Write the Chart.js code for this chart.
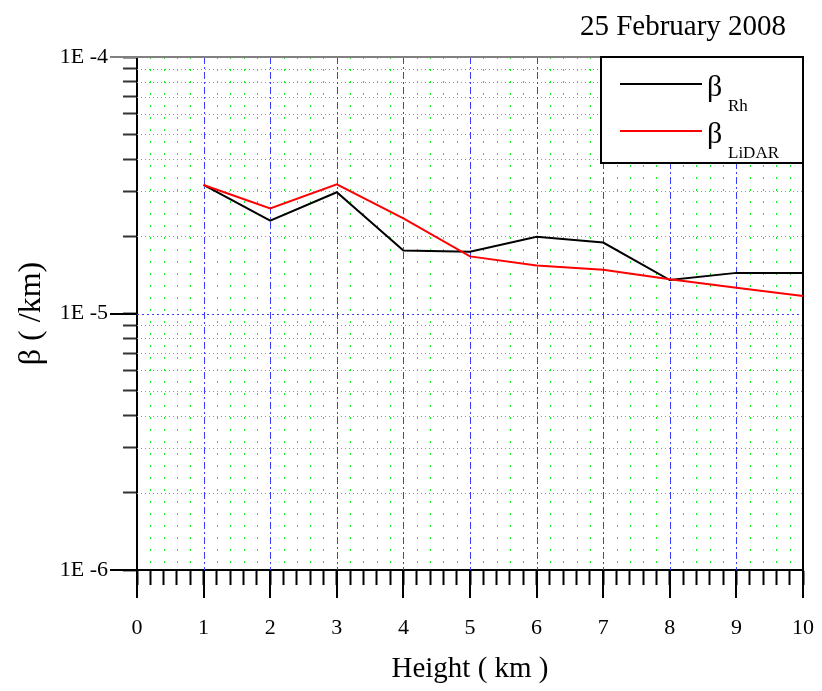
<!DOCTYPE html>
<html>
<head>
<meta charset="utf-8">
<title>25 February 2008</title>
<script src="https://cdn.jsdelivr.net/npm/chart.js@4.4.1/dist/chart.umd.min.js"></script>
<style>
  body { margin: 0; background: #fff; }
  canvas { display: block; }
</style>
</head>
<body>
<canvas id="chart" width="822" height="691"></canvas>
<script>
// values
const heights = [1, 2, 3, 4, 5, 6, 7, 8, 9, 10];
const betaRh = [3.17e-5, 2.30e-5, 2.97e-5, 1.76e-5, 1.74e-5, 1.99e-5, 1.89e-5, 1.35e-5, 1.44e-5, 1.44e-5];
const betaLidar = [3.17e-5, 2.57e-5, 3.19e-5, 2.35e-5, 1.67e-5, 1.54e-5, 1.48e-5, 1.36e-5, 1.26e-5, 1.17e-5];
const yDecades = [1e-6, 1e-5, 1e-4];
const yMinorSteps = [1, 2, 3, 4, 5, 6, 7, 8, 9];
const xMajorTicks = [0, 1, 2, 3, 4, 5, 6, 7, 8, 9, 10];
const chartTitle = '25 February 2008';
const seriesNames = [
  { main: 'β', sub: 'Rh' },
  { main: 'β', sub: 'LiDAR' },
];

const SERIF = "'Liberation Serif', 'DejaVu Serif', serif";
const BLUE = '#3c3cff';
const GREEN = '#11ee11';

const isDecade = (v) => Math.abs(Math.log10(v) - Math.round(Math.log10(v))) < 1e-6;
const isInteger = (v) => Math.abs(v - Math.round(v)) < 1e-6;

// y ticks: 1..9 in every decade, up to the last decade
const yTicks = [];
yDecades.forEach((d, i) => {
  if (i === yDecades.length - 1) {
    yTicks.push(d);
  } else {
    yMinorSteps.forEach((m) => yTicks.push(m * d));
  }
});

const toPoints = (ys) => heights.map((h, i) => ({ x: h, y: ys[i] }));

const strokeLine = (ctx, x1, y1, x2, y2, color, width, dash) => {
  ctx.save();
  ctx.strokeStyle = color;
  ctx.lineWidth = width;
  ctx.setLineDash(dash);
  ctx.beginPath();
  ctx.moveTo(x1, y1);
  ctx.lineTo(x2, y2);
  ctx.stroke();
  ctx.restore();
};

// grid inside the plot, placed from the scales' own ticks
const gridPlugin = {
  id: 'plotGrid',
  beforeDatasetsDraw(chart) {
    const { ctx, chartArea: a, scales } = chart;
    scales.y.ticks.forEach((t) => {
      const py = Math.round(scales.y.getPixelForValue(t.value)) + 0.5;
      if (t.value <= 1e-6 || t.value >= 1e-4) return;
      if (isDecade(t.value)) strokeLine(ctx, a.left, py, a.right, py, BLUE, 1, [2, 3]);
      else strokeLine(ctx, a.left, py, a.right, py, GREEN, 1, [1, 3]);
    });
    scales.x.ticks.forEach((t) => {
      const px = Math.round(scales.x.getPixelForValue(t.value)) + 0.5;
      if (t.value <= 0 || t.value >= 10) return;
      if (isInteger(t.value)) strokeLine(ctx, px, a.top, px, a.bottom, BLUE, 1, [7, 3, 2, 3]);
      else strokeLine(ctx, px, a.top, px, a.bottom, GREEN, 1, [2, 10]);
    });
    // top and right frame
    strokeLine(ctx, a.left, a.top, a.right, a.top, '#808080', 2, []);
    strokeLine(ctx, a.right, a.top, a.right, a.bottom, '#000', 2, []);
  },
};

// long tick marks at the labelled values, title and the boxed legend
const extrasPlugin = {
  id: 'extras',
  afterDraw(chart) {
    const { ctx, chartArea, scales } = chart;
    const x = scales.x;
    const y = scales.y;
    ctx.save();

    yDecades.forEach((d) => {
      const py = Math.round(y.getPixelForValue(d));
      const col = d === yDecades[yDecades.length - 1] ? '#808080' : '#000';
      strokeLine(ctx, chartArea.left - 27, py, chartArea.left, py, col, 2, []);
    });
    xMajorTicks.forEach((v) => {
      const px = Math.round(x.getPixelForValue(v));
      strokeLine(ctx, px, chartArea.bottom, px, chartArea.bottom + 28, '#000', 2, []);
    });

    // title
    ctx.fillStyle = '#000';
    ctx.font = '29px ' + SERIF;
    ctx.textAlign = 'center';
    ctx.textBaseline = 'alphabetic';
    ctx.fillText(chartTitle, 683, 35);

    // legend box
    const bx = 601, by = chartArea.top, bw = chartArea.right - 601, bh = 106;
    ctx.fillStyle = '#fff';
    ctx.fillRect(bx, by, bw, bh);
    ctx.strokeStyle = '#000';
    ctx.lineWidth = 2;
    ctx.strokeRect(bx, by, bw, bh);
    const rows = [27, 74];
    chart.data.datasets.forEach((ds, i) => {
      const ly = by + rows[i];
      strokeLine(ctx, 620, ly, 702, ly, ds.borderColor, 2, []);
      ctx.fillStyle = '#000';
      ctx.textAlign = 'left';
      ctx.font = '30px ' + SERIF;
      ctx.fillText(seriesNames[i].main, 707, ly + 12);
      ctx.font = '17px ' + SERIF;
      ctx.fillText(seriesNames[i].sub, 728, ly + 27);
    });
    ctx.restore();
  },
};

new Chart(document.getElementById('chart'), {
  type: 'line',
  data: {
    datasets: [
      {
        label: 'β Rh',
        data: toPoints(betaRh),
        borderColor: '#000000',
        borderWidth: 2,
        pointRadius: 0,
        tension: 0,
        order: 2,
      },
      {
        label: 'β LiDAR',
        data: toPoints(betaLidar),
        borderColor: '#ff0000',
        borderWidth: 2,
        pointRadius: 0,
        tension: 0,
        order: 1,
      },
    ],
  },
  options: {
    responsive: false,
    animation: false,
    devicePixelRatio: 1,
    layout: { padding: { top: 57, right: 19, left: 0, bottom: 0 } },
    plugins: {
      legend: { display: false },
      title: { display: false },
      tooltip: { enabled: false },
    },
    scales: {
      x: {
        type: 'linear',
        min: 0,
        max: 10,
        afterFit: (scale) => {
          scale.height = 121;
          scale.paddingLeft = 0;
          scale.paddingRight = 0;
        },
        ticks: {
          stepSize: 0.2,
          autoSkip: false,
          maxRotation: 0,
          padding: 30,
          color: '#000',
          font: { family: SERIF, size: 22 },
          callback: (v) => (isInteger(v) ? String(Math.round(v)) : ''),
        },
        grid: {
          drawOnChartArea: false,
          drawTicks: true,
          tickLength: 15,
          tickWidth: 2,
          tickColor: '#000',
        },
        border: { display: true, color: '#000', width: 2 },
        title: {
          display: true,
          text: 'Height ( km )',
          color: '#000',
          font: { family: SERIF, size: 29 },
          padding: { top: 0, bottom: 4 },
        },
      },
      y: {
        type: 'logarithmic',
        min: 1e-6,
        max: 1e-4,
        afterFit: (scale) => {
          scale.width = 137;
          scale.paddingTop = 0;
          scale.paddingBottom = 0;
        },
        afterBuildTicks: (scale) => {
          scale.ticks = yTicks.map((v) => ({ value: v }));
        },
        ticks: {
          autoSkip: false,
          padding: 15,
          color: '#000',
          font: { family: SERIF, size: 22 },
          callback: (v) => (isDecade(v) ? '1E -' + Math.abs(Math.round(Math.log10(v))) : ''),
        },
        grid: {
          drawOnChartArea: false,
          drawTicks: true,
          tickLength: 14,
          tickWidth: 2,
          tickColor: '#333',
        },
        border: { display: true, color: '#000', width: 2 },
        title: {
          display: true,
          text: 'β ( /km)',
          color: '#000',
          font: { family: SERIF, size: 32 },
          padding: { top: 12, bottom: 0 },
        },
      },
    },
  },
  plugins: [gridPlugin, extrasPlugin],
});
</script>
</body>
</html>
